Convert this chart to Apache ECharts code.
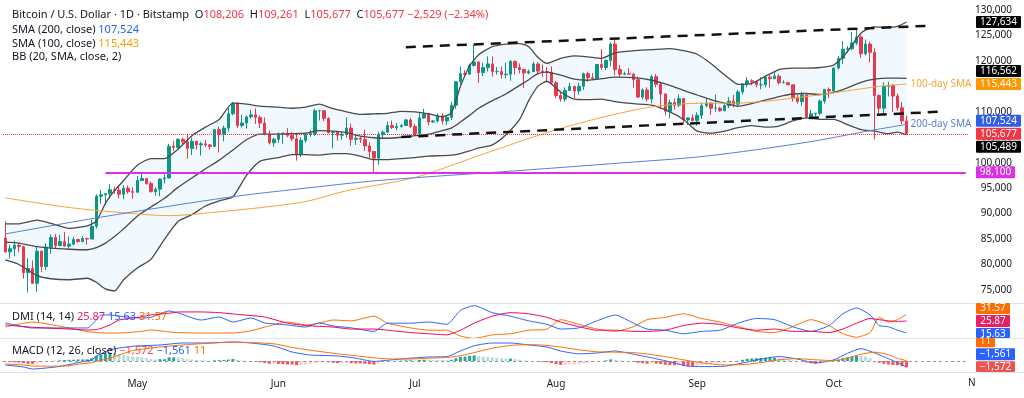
<!DOCTYPE html>
<html>
<head>
<meta charset="utf-8">
<script src="https://cdn.jsdelivr.net/npm/echarts@6/dist/echarts.min.js"></script>
<style>
  html, body { margin: 0; padding: 0; background: #fff; }
  #chart { width: 1024px; height: 398px; }
</style>
</head>
<body>
<div id="chart"></div>
<script>
// prices are in thousands of USD, daily candles 2025-04-02 .. 2025-10-17
const firstDay = '2025-04-02';
const dayCount = 212; // axis runs on to Oct 30 (empty space at the right)

const open = [
  85.2,82.5,83.1,83.8,83.5,78.4,79.2,76.3,82.6,79.6,83.4,85.3,83.7,84.5,83.6,84.0,84.9,84.5,85.1,85.0,87.5,93.4,93.7,93.9,94.7,94.6,93.8,95.0,94.3,
  94.2,96.5,96.9,95.9,94.3,94.8,96.8,97.0,103.2,103.0,104.6,104.1,102.8,104.2,103.5,103.7,103.5,103.2,106.5,105.6,106.8,109.6,111.7,107.3,107.8,109.0,109.4,108.9,107.8,105.6,103.9,
  104.6,105.7,105.8,105.4,104.7,101.6,104.4,105.6,105.7,110.2,110.2,108.7,105.9,106.0,105.4,105.6,106.8,104.6,104.8,104.6,103.3,102.2,100.9,105.5,106.0,107.3,106.9,107.1,107.3,108.4,
  107.1,105.7,108.8,109.6,108.0,108.2,109.2,108.2,108.9,111.3,115.9,117.5,117.4,119.1,119.8,117.7,118.7,119.4,117.9,117.9,117.3,117.4,119.9,118.7,118.3,117.6,117.9,119.4,118.0,117.9,117.8,
  115.7,113.2,112.5,114.2,115.0,114.1,115.0,117.5,116.7,116.5,119.3,118.7,120.1,123.3,118.3,117.4,117.5,117.4,116.3,112.9,114.3,112.5,116.9,115.4,113.5,110.1,111.8,111.3,112.6,108.4,108.8,
  108.3,109.3,111.2,111.7,110.7,110.7,110.2,111.2,112.1,111.5,113.9,115.5,116.1,115.9,115.3,115.3,116.8,116.5,117.0,115.7,115.7,115.3,112.7,112.0,113.3,109.0,109.6,109.7,112.1,114.4,
  114.1,118.6,120.5,122.3,122.4,123.5,124.7,121.4,123.3,121.7,113.2,110.7,115.0,115.2,113.1,110.8,108.206
];
const high = [
  88.5,83.9,84.7,84.2,83.7,81.2,80.8,83.5,82.7,84.2,85.9,86.0,85.8,86.4,85.5,85.4,85.1,85.6,85.3,88.8,93.8,94.7,94.0,95.8,95.3,95.3,95.6,95.5,95.2,
  97.4,97.9,96.9,96.3,95.2,96.9,97.7,103.7,104.3,104.8,104.9,105.7,104.9,104.3,104.1,104.5,103.7,106.6,107.1,107.3,110.7,111.9,111.8,109.4,109.3,110.4,110.7,109.3,108.9,106.3,104.9,
  105.9,105.9,106.8,106.0,105.9,105.0,105.9,106.4,110.6,110.4,110.4,108.9,106.2,106.2,106.1,108.9,107.7,105.5,105.2,106.5,104.0,102.3,106.1,106.3,108.1,108.3,107.8,107.6,108.6,108.8,
  107.6,109.8,110.6,109.8,108.4,109.7,109.7,109.2,111.9,116.0,118.9,118.2,119.5,123.2,119.9,119.6,120.9,120.9,118.8,118.9,119.7,120.2,120.1,119.5,118.5,118.3,119.8,119.8,119.3,118.8,118.9,
  116.1,114.0,114.8,115.7,115.1,115.7,117.7,117.9,117.6,119.3,122.3,120.3,123.7,124.5,119.2,117.9,118.6,117.6,116.9,114.6,114.8,117.3,117.4,115.7,113.6,112.4,112.6,113.4,112.7,108.9,109.5,
  109.9,111.8,112.6,111.8,113.4,111.0,111.5,112.9,113.3,114.3,115.5,116.8,116.4,116.1,116.8,116.9,117.3,117.9,117.4,116.2,115.9,115.4,113.3,113.9,113.4,110.4,109.8,112.4,114.5,114.8,
  118.6,121.0,123.9,122.9,125.7,126.2,125.1,124.2,123.8,122.5,113.4,115.8,115.9,115.4,113.6,111.9,109.261
];
const low = [
  82.3,81.2,81.6,82.4,77.2,74.5,76.2,74.6,78.5,78.9,82.1,83.1,83.7,83.6,83.1,83.8,84.3,84.4,83.9,85.0,87.1,91.9,91.7,92.9,93.9,93.0,92.8,93.9,92.9,
  94.1,96.4,95.7,94.2,93.5,93.4,95.9,96.9,102.3,102.8,103.4,100.8,101.5,102.6,101.4,103.1,102.6,103.1,102.0,104.2,106.1,109.3,106.8,106.9,106.7,108.7,107.6,106.8,105.4,103.6,103.1,
  103.9,103.7,105.0,104.2,100.4,101.1,103.9,105.1,105.3,108.3,108.2,105.7,102.8,104.3,104.5,104.9,103.3,103.5,103.9,102.3,100.9,98.2,99.6,104.6,105.8,106.6,106.4,106.9,107.2,106.8,
  105.3,105.2,108.6,107.3,107.8,107.9,107.5,107.4,108.4,110.6,115.3,116.9,117.3,118.9,115.7,117.0,117.9,116.9,117.3,116.5,116.6,116.1,117.3,117.5,114.7,117.4,117.8,117.4,116.9,115.8,115.5,
  112.7,112.0,112.0,114.1,112.7,113.4,114.3,115.9,116.3,116.5,118.2,118.2,118.9,117.2,116.8,117.2,117.3,114.7,112.7,112.4,112.0,111.7,114.8,110.7,109.3,108.7,110.4,110.9,107.5,107.4,108.1,
  107.3,108.6,110.9,109.4,110.0,110.0,110.2,110.7,110.9,110.9,113.4,114.8,115.2,114.8,114.4,114.8,114.8,116.4,115.4,115.6,115.3,112.0,111.6,111.1,108.7,108.6,109.1,109.3,111.6,112.7,
  113.9,118.3,119.4,121.6,122.1,123.1,120.6,121.1,119.7,104.6,109.7,109.6,113.0,110.0,110.2,107.6,105.677
];
const close = [
  82.5,83.1,83.8,83.5,78.4,79.2,76.3,82.6,79.6,83.4,85.3,83.7,84.5,83.6,84.0,84.9,84.5,85.1,85.0,87.5,93.4,93.7,93.9,94.7,94.6,93.8,95.0,94.3,94.2,
  96.5,96.9,95.9,94.3,94.8,96.8,97.0,103.2,103.0,104.6,104.1,102.8,104.2,103.5,103.7,103.5,103.2,106.5,105.6,106.8,109.6,111.7,107.3,107.8,109.0,109.4,108.9,107.8,105.6,103.9,104.6,
  105.7,105.8,105.4,104.7,101.6,104.4,105.6,105.7,110.2,110.2,108.7,105.9,106.0,105.4,105.6,106.8,104.6,104.8,104.6,103.3,102.2,100.9,105.5,106.0,107.3,106.9,107.1,107.3,108.4,107.1,
  105.7,108.8,109.6,108.0,108.2,109.2,108.2,108.9,111.3,115.9,117.5,117.4,119.1,119.8,117.7,118.7,119.4,117.9,117.9,117.3,117.4,119.9,118.7,118.3,117.6,117.9,119.4,118.0,117.9,117.8,115.7,
  113.2,112.5,114.2,115.0,114.1,115.0,117.5,116.7,116.5,119.3,118.7,120.1,123.3,118.3,117.4,117.5,117.4,116.3,112.9,114.3,112.5,116.9,115.4,113.5,110.1,111.8,111.3,112.6,108.4,108.8,108.3,
  109.3,111.2,111.7,110.7,110.7,110.2,111.2,112.1,111.5,113.9,115.5,116.1,115.9,115.3,115.3,116.8,116.5,117.0,115.7,115.7,115.3,112.7,112.0,113.3,109.0,109.6,109.7,112.1,114.4,114.1,
  118.6,120.5,122.3,122.4,123.5,124.7,121.4,123.3,121.7,113.2,110.7,115.0,115.2,113.1,110.8,108.206,105.677
];

// Bollinger (20, 2)
const bbDates = ['04-02','04-05','04-09','04-12','04-16','04-20','04-22','04-24','04-26','04-28','05-01','05-04','05-07','05-10','05-13','05-16','05-19','05-22','05-25','05-28',
  '06-01','06-04','06-07','06-10','06-13','06-16','06-19','06-22','06-25','06-28','07-01','07-04','07-07','07-09','07-11','07-13','07-15','07-18','07-21','07-24','07-26','07-28','07-30',
  '08-02','08-05','08-08','08-11','08-14','08-18','08-22','08-26','08-29','09-01','09-04','09-07','09-10','09-13','09-16','09-19','09-22','09-25','09-28','10-01','10-04','10-07','10-10','10-13','10-15','10-17'];
const bbUpper = [88.0,88.0,88.7,88.1,87.1,87.6,88.5,92.0,94.5,96.5,99.5,100.8,100.8,102.7,105.3,107.0,108.5,111.7,111.5,111.1,
  110.9,110.7,110.9,111.5,110.6,110.0,109.5,109.6,109.7,110.1,110.0,109.6,109.0,109.8,115.0,119.0,121.2,122.8,123.3,123.4,122.8,120.7,119.5,
  120.5,121.0,120.8,120.5,121.6,122.0,122.2,122.4,122.0,121.3,119.5,117.3,115.4,115.6,117.0,118.3,118.6,118.6,118.7,119.2,121.8,125.5,126.7,126.6,126.8,127.634];
const bbMid = [84.4,84.2,83.5,83.2,83.0,82.9,83.3,84.2,85.5,87.0,89.5,91.3,93.0,95.2,97.0,98.8,100.5,102.5,104.5,105.6,
  105.6,105.7,105.8,106.3,106.2,105.9,105.2,104.9,104.8,105.0,105.3,105.6,106.3,106.8,108.0,109.3,110.7,112.2,113.5,115.2,116.3,117.5,117.8,
  117.2,116.4,116.2,116.5,116.8,116.7,116.2,115.2,114.2,113.3,112.4,111.7,111.1,111.6,112.3,113.0,113.5,113.6,113.4,113.8,114.7,115.8,116.4,116.6,116.6,116.562];
const bbLower = [80.9,80.0,77.8,77.2,77.0,77.3,76.5,75.2,74.8,77.0,79.3,81.0,85.0,88.5,89.8,91.5,92.5,93.3,97.5,100.3,
  101.0,101.6,101.6,101.5,101.8,101.8,101.3,100.6,100.6,100.8,101.0,101.3,101.4,101.5,101.8,102.3,102.9,103.5,105.5,108.5,112.2,115.0,116.0,
  113.9,112.5,112.4,112.5,112.0,111.6,111.3,110.0,108.5,106.2,105.8,106.2,106.9,107.3,107.0,107.2,108.2,108.8,108.5,108.5,107.5,106.5,106.2,105.7,106.0,105.489];

const sma200Dates = ['04-02','04-23','05-21','06-06','06-23','07-23','08-16','09-03','09-25','10-09','10-17'];
const sma200 = [86.0,89.3,93.2,94.9,96.5,98.4,100.0,101.3,104.0,106.3,107.524];
const sma100Dates = ['04-02','04-16','04-30','05-08','05-15','06-06','06-16','07-01','07-16','07-31','08-12','08-23','09-03','09-09','09-25','10-11','10-17'];
const sma100 = [93.1,91.2,90.0,89.6,90.0,92.2,94.5,97.1,101.7,106.2,109.1,111.1,111.7,111.7,113.0,115.0,115.443];

// drawn levels
const trendDates = ['06-29','10-22'];
const upperTrend = [122.7,126.9];
const lowerTrendDates = ['06-28','10-24'];
const lowerTrend = [105.05,110.0];
const supportFrom = '04-24';
const supportLevel = 98.1;
const priceTicks = [75,80,85,90,95,100,105,110,115,120,125,130];

// DMI (14, 14)
const dmiDates = ['04-02','04-08','04-16','04-20','04-22','04-23','04-25','04-27','05-02','05-04','05-08','05-10','05-15','05-19','05-22','05-26','05-29','06-03','06-07','06-10','06-13',
  '06-17','06-22','06-25','06-30','07-04','07-08','07-11','07-14','07-18','07-22','07-26','07-30','08-02','08-06','08-10','08-14','08-18','08-21','08-25','08-29',
  '09-02','09-06','09-10','09-14','09-18','09-22','09-26','09-30','10-03','10-06','10-09','10-11','10-13','10-15','10-17'];
const plusDI = [24.2,19.9,19.9,19.9,26.7,31.0,31.0,30.0,28.4,29.0,34.4,32.7,26.7,29.3,25.0,28.4,24.2,22.5,20.7,24.2,21.6,
  20,17,24,24,25,23,35,39,33,30,26,23,19,20,26,31,24,19,18,15,17,18,24,28,27,21,17,22,32,37,31,22,21,18,15.63];
const minusDI = [20.7,25.0,19.9,16.8,16.0,15.8,15.6,15.6,17.0,18.2,16.5,16.0,15.6,15.6,15.6,17.5,20.7,25.0,22.5,24.0,26.7,
  26,30,24,20,18,18,13,11,14,15,18,19,27,23,19,17,21,27,29,32,28,25,21,17,16,21,27,22,15,12,16,29,25,27,31.57];
const adx = [22.5,20.5,19.0,18.2,18.5,19.5,22.5,26.7,29.5,31.0,32.5,33.6,33.6,33.0,31.9,30.5,29.3,24.0,22.0,21.3,20.7,
  19,19,18,16,15,14,18,24,30,33,32,29,25,21,18,18,17,17,18,22,24,23,20,18,19,17,17,16,19,24,28,27,26,25.5,25.87];

// MACD (12, 26) in USD
const macdDates = ['04-02','04-06','04-08','04-13','04-16','04-18','04-21','04-22','04-25','04-30','05-06','05-11','05-16','05-22','05-26','05-31',
  '06-04','06-08','06-14','06-18','06-22','06-26','06-30','07-04','07-08','07-11','07-14','07-18','07-22','07-26','07-30',
  '08-02','08-06','08-10','08-14','08-18','08-22','08-26','08-30','09-03','09-07','09-11','09-15','09-19','09-23','09-27',
  '10-01','10-04','10-07','10-10','10-13','10-15','10-16','10-17'];
const macdLine = [-1000,-1500,-2000,-1500,-900,-400,300,1200,2800,3700,4000,4500,4500,4750,4500,3750,
  2250,1500,1250,700,-100,300,700,1000,1100,2500,3800,4500,4500,4000,3500,
  2500,1800,2000,2500,1700,800,-200,-1300,-1400,-1300,-500,500,1100,500,-500,
  300,1900,3100,2000,600,-400,-900,-1561];
const signalLine = [-750,-1000,-1250,-1300,-1200,-800,-400,-100,700,2600,3500,4000,4400,4700,4600,4300,
  3400,2700,1800,1300,800,500,500,700,900,1300,2100,3200,3900,4100,3900,
  3500,2800,2300,2200,2100,1600,900,100,-600,-1000,-900,-400,300,600,300,
  100,700,1700,2200,1600,650,400,11];
const macdHist = [
  -250,-300,-350,-400,-500,-700,-750,-600,-450,-250,-50,50,150,250,300,330,380,400,420,700,1300,1700,1900,2100,1900,1700,1500,1300,1100,
  1000,900,700,500,400,450,450,900,900,850,700,450,350,250,180,120,60,180,200,250,350,500,250,120,50,-80,-200,-300,-500,-700,-700,
  -750,-800,-850,-900,-1050,-1000,-900,-800,-450,-250,-200,-350,-450,-550,-550,-500,-550,-600,-620,-700,-800,-900,-550,-300,-100,-50,50,100,150,200,
  150,250,320,300,280,250,220,200,300,700,1000,1100,1300,1400,1200,1100,1000,900,800,700,600,600,450,300,150,50,0,-80,-200,-300,-500,
  -750,-950,-950,-900,-900,-850,-600,-450,-350,-100,0,150,400,300,150,50,-50,-150,-450,-550,-700,-600,-650,-750,-950,-1000,-1050,-1000,-1200,-1250,-1300,
  -1200,-1000,-850,-700,-550,-450,-320,-200,-150,50,300,550,650,700,750,800,800,800,700,600,450,200,0,-50,-350,-550,-650,-600,-400,-250,
  50,350,700,900,1100,1300,1250,1100,700,-150,-450,-700,-900,-1000,-1050,-1300,-1572
];

// ---- layout ----
const FONT = '"Noto Sans", sans-serif';
const TXT = '#131722';
const PLOT_RIGHT = 56;
const MAIN = { top: 0, height: 303 };
const DMI = { top: 303, height: 35 };
const MACD = { top: 338, height: 34 };
const UP = '#089981', DOWN = '#f23645';
const BB_LINE = '#4a4a4a';
const SMA100_C = '#f5a53a', SMA200_C = '#5a7fd8';
const MAGENTA = '#df2fe6';
const months = ['Jan','Feb','Mar','Apr','May','Jun','Jul','Aug','Sep','Oct','Nov','Dec'];

const days = [];
for (let i = 0; i < dayCount; i++) {
  const d = new Date(Date.UTC(2025, 3, 2 + i));
  days.push(d.toISOString().slice(0, 10));
}
const day = s => '2025-' + s;
const pairs = (ds, vs) => ds.map((d, i) => [day(d), vs[i]]);
const candles = open.map((o, i) => [o, close[i], low[i], high[i]]);
const fmtK = v => Math.round(v * 1000).toLocaleString('en-US');
const fmt = v => (v < 0 ? '\u2212' : '') + Math.abs(v).toLocaleString('en-US');

const histData = macdHist.map((v, i) => {
  const prev = i > 0 ? macdHist[i - 1] : v;
  let c;
  if (v >= 0) c = v >= prev ? '#26a69a' : '#b2dfdb';
  else c = v < prev ? '#ff5252' : '#ffcdd2';
  return { value: v, itemStyle: { color: c } };
});

function xAxis(gridIndex, labels) {
  return {
    type: 'category', gridIndex, data: days, boundaryGap: true,
    axisLine: { show: false }, axisTick: { show: false }, splitLine: { show: false },
    axisPointer: { show: false },
    axisLabel: labels ? {
      show: true, color: TXT, fontFamily: FONT, fontSize: 10, margin: 7,
      interval: (idx, val) => val.slice(8) === '01',
      formatter: val => months[+val.slice(5, 7) - 1]
    } : { show: false }
  };
}
function hiddenY(gridIndex, min, max) {
  return {
    type: 'value', gridIndex, min, max, position: 'right',
    axisLine: { show: false }, axisTick: { show: false },
    axisLabel: { show: false }, splitLine: { show: false }
  };
}
const line = (name, x, y, data, color, width, extra) => Object.assign({
  name, type: 'line', xAxisIndex: x, yAxisIndex: y, data, symbol: 'none', silent: true,
  lineStyle: { color, width }, animation: false
}, extra || {});

const last = open.length - 1;
const chg = close[last] - close[last - 1];
const pct = chg / close[last - 1] * 100;

const option = {
  animation: false,
  backgroundColor: '#ffffff',
  textStyle: { fontFamily: FONT },
  grid: [
    { left: 3, right: PLOT_RIGHT, top: MAIN.top, height: MAIN.height },
    { left: 3, right: PLOT_RIGHT, top: DMI.top, height: DMI.height },
    { left: 3, right: PLOT_RIGHT, top: MACD.top, height: MACD.height }
  ],
  xAxis: [xAxis(0, false), xAxis(1, false), xAxis(2, true)],
  yAxis: [
    {
      type: 'value', gridIndex: 0, position: 'right', min: 72.436, max: 131.965,
      axisLine: { show: false }, axisTick: { show: false }, splitLine: { show: false },
      axisLabel: {
        color: TXT, fontFamily: FONT, fontSize: 10, align: 'right', margin: 44,
        customValues: priceTicks, formatter: v => fmtK(v)
      }
    },
    hiddenY(1, 11.34, 41.25),
    hiddenY(2, -2750, 5750)
  ],
  series: [
    line('bbBase', 0, 0, pairs(bbDates, bbLower), 'transparent', 0, { stack: 'bb', lineStyle: { opacity: 0 } }),
    line('bbFill', 0, 0, pairs(bbDates, bbUpper.map((u, i) => u - bbLower[i])), 'transparent', 0,
      { stack: 'bb', lineStyle: { opacity: 0 }, areaStyle: { color: 'rgba(33,150,243,0.09)' } }),
    {
      name: 'BTCUSD', type: 'candlestick', xAxisIndex: 0, yAxisIndex: 0, data: candles,
      barWidth: 3, silent: true,
      itemStyle: { color: UP, color0: DOWN, borderColor: UP, borderColor0: DOWN, borderWidth: 1 },
      markLine: {
        silent: true, symbol: 'none', animation: false,
        label: { show: false },
        data: [
          { yAxis: close[last], lineStyle: { color: DOWN, type: 'dotted', width: 1 } },
          [{ coord: [day(supportFrom), supportLevel], lineStyle: { color: MAGENTA, width: 1.8, type: 'solid' } },
           { coord: [days[days.length - 1], supportLevel] }],
          [{ coord: [day(trendDates[0]), upperTrend[0]], lineStyle: { color: '#111', width: 2.5, type: [10, 7] } },
           { coord: [day(trendDates[1]), upperTrend[1]] }],
          [{ coord: [day(lowerTrendDates[0]), lowerTrend[0]], lineStyle: { color: '#111', width: 2.5, type: [10, 7] } },
           { coord: [day(lowerTrendDates[1]), lowerTrend[1]] }]
        ]
      }
    },
    line('bbUpper', 0, 0, pairs(bbDates, bbUpper), BB_LINE, 1.3, { smooth: 0.2 }),
    line('bbMid', 0, 0, pairs(bbDates, bbMid), BB_LINE, 1.3, { smooth: 0.2 }),
    line('bbLower', 0, 0, pairs(bbDates, bbLower), BB_LINE, 1.3, { smooth: 0.2 }),
    line('sma100', 0, 0, pairs(sma100Dates, sma100), SMA100_C, 1, {
      smooth: 0.3,
      endLabel: { show: true, formatter: '100-day SMA', color: SMA100_C, fontFamily: FONT, fontSize: 10, distance: 4 }
    }),
    line('sma200', 0, 0, pairs(sma200Dates, sma200), SMA200_C, 1, {
      smooth: 0.3,
      endLabel: { show: true, formatter: '200-day SMA', color: SMA200_C, fontFamily: FONT, fontSize: 10, distance: 4 }
    }),
    line('-DI', 1, 1, pairs(dmiDates, minusDI), '#ff6d00', 1, { smooth: 0.2 }),
    line('+DI', 1, 1, pairs(dmiDates, plusDI), '#2962ff', 1, { smooth: 0.2 }),
    line('ADX', 1, 1, pairs(dmiDates, adx), '#f50057', 1, { smooth: 0.2 }),
    {
      name: 'hist', type: 'bar', xAxisIndex: 2, yAxisIndex: 2, data: histData, barWidth: 3, silent: true,
      markLine: {
        silent: true, symbol: 'none', label: { show: false },
        data: [{ yAxis: 0, lineStyle: { color: '#9598a1', type: [3, 3], width: 1 } }]
      }
    },
    line('macd', 2, 2, pairs(macdDates, macdLine), '#2962ff', 1, { smooth: 0.2 }),
    line('signal', 2, 2, pairs(macdDates, signalLine), '#ff6d00', 1, { smooth: 0.2 })
  ]
};

const chart = echarts.init(document.getElementById('chart'));
chart.setOption(option);

// ---- right scale value boxes, pushed apart like the original scale does ----
const BOX_H = 12, PITCH = 13, BOX_X = 976;
const mctx = document.createElement('canvas').getContext('2d');
mctx.font = '10px ' + FONT;
function boxes(items, yAxisIndex, paneTop, paneBottom) {
  const placed = [], els = [];
  items.forEach(it => {
    let y = chart.convertToPixel({ yAxisIndex }, it.value);
    for (let k = 0; k < 12; k++) {
      const hit = placed.find(p => Math.abs(p.y - y) < PITCH - 0.01);
      if (!hit) break;
      y = it.value >= hit.value ? hit.y - PITCH : hit.y + PITCH;
    }
    placed.push({ value: it.value, y });
    const w = Math.round(mctx.measureText(it.text).width + 8);
    const top = Math.max(y - BOX_H / 2, paneTop), bottom = Math.min(y + BOX_H / 2, paneBottom);
    els.push({ type: 'rect', z: 20, silent: true, shape: { x: BOX_X, y: top, width: w, height: bottom - top, r: 1 }, style: { fill: it.color } });
    els.push({ type: 'text', z: 21, silent: true, x: BOX_X + w / 2, y,
      style: { text: it.text, fill: '#fff', font: '10px ' + FONT, align: 'center', verticalAlign: 'middle' } });
  });
  return els;
}

const mainBoxes = boxes([
  { value: close[last], text: fmtK(close[last]), color: DOWN },
  { value: sma200[sma200.length - 1], text: fmtK(sma200[sma200.length - 1]), color: '#2f5fe8' },
  { value: bbLower[bbLower.length - 1], text: fmtK(bbLower[bbLower.length - 1]), color: '#000' },
  { value: sma100[sma100.length - 1], text: fmtK(sma100[sma100.length - 1]), color: '#ff9800' },
  { value: bbMid[bbMid.length - 1], text: fmtK(bbMid[bbMid.length - 1]), color: '#000' },
  { value: bbUpper[bbUpper.length - 1], text: fmtK(bbUpper[bbUpper.length - 1]), color: '#000' },
  { value: supportLevel, text: fmtK(supportLevel), color: MAGENTA }
], 0, MAIN.top, MAIN.top + MAIN.height);

const dmiBoxes = boxes([
  { value: adx[adx.length - 1], text: adx[adx.length - 1].toFixed(2), color: '#e91e63' },
  { value: minusDI[minusDI.length - 1], text: minusDI[minusDI.length - 1].toFixed(2), color: '#ff6d00' },
  { value: plusDI[plusDI.length - 1], text: plusDI[plusDI.length - 1].toFixed(2), color: '#2962ff' }
], 1, DMI.top, DMI.top + DMI.height);

const lastHist = macdHist[macdHist.length - 1];
const lastMacd = macdLine[macdLine.length - 1];
const lastSignal = signalLine[signalLine.length - 1];
const macdBoxes = boxes([
  { value: lastHist, text: fmt(lastHist), color: '#ef5350' },
  { value: lastMacd, text: fmt(lastMacd), color: '#2962ff' },
  { value: lastSignal, text: fmt(lastSignal), color: '#ff6d00' }
], 2, MACD.top, MACD.top + MACD.height);

const sep = y => ({ type: 'line', z: 5, silent: true, shape: { x1: 0, y1: y, x2: 1024, y2: y }, style: { stroke: '#e0e3eb', lineWidth: 1 } });
const LEG = '11px ' + FONT;
const legend = (y, text, rich) => ({
  type: 'text', z: 30, silent: true, x: 12, y,
  style: { text, rich, font: LEG, fill: TXT, verticalAlign: 'middle' }
});
const rs = c => ({ fill: c, font: LEG });

chart.setOption({
  graphic: [
    sep(DMI.top + 0.5), sep(MACD.top + 0.5), sep(MACD.top + MACD.height + 0.5),
    legend(15,
      'Bitcoin / U.S. Dollar \u00b7 1D \u00b7 Bitstamp  O{r|' + fmtK(open[last]) + '}  H{r|' + fmtK(high[last]) +
      '}  L{r|' + fmtK(low[last]) + '}  C{r|' + fmtK(close[last]) + ' ' + fmt(Math.round(chg * 1000)) +
      ' (' + (pct < 0 ? '\u2212' : '') + Math.abs(pct).toFixed(2) + '%)}',
      { r: rs(DOWN) }),
    legend(30, 'SMA (200, close) {b|' + fmtK(sma200[sma200.length - 1]) + '}', { b: rs('#2962ff') }),
    legend(44, 'SMA (100, close) {o|' + fmtK(sma100[sma100.length - 1]) + '}', { o: rs('#ff9800') }),
    legend(57, 'BB (20, SMA, close, 2)', {}),
    legend(317, 'DMI (14, 14) {p|' + adx[adx.length - 1].toFixed(2) + '} {b|' + plusDI[plusDI.length - 1].toFixed(2) +
      '} {o|' + minusDI[minusDI.length - 1].toFixed(2) + '}',
      { p: rs('#e91e63'), b: rs('#2962ff'), o: rs('#ff6d00') }),
    legend(351, 'MACD (12, 26, close) {r|' + fmt(lastHist) + '} {b|' + fmt(lastMacd) + '} {o|' + fmt(lastSignal) + '}',
      { r: rs('#ef5350'), b: rs('#2962ff'), o: rs('#ff6d00') }),
    { type: 'text', z: 30, silent: true, x: 968, y: 383,
      style: { text: 'N', font: '10px ' + FONT, fill: TXT, verticalAlign: 'middle' } }
  ].concat(mainBoxes, dmiBoxes, macdBoxes)
});
</script>
</body>
</html>
